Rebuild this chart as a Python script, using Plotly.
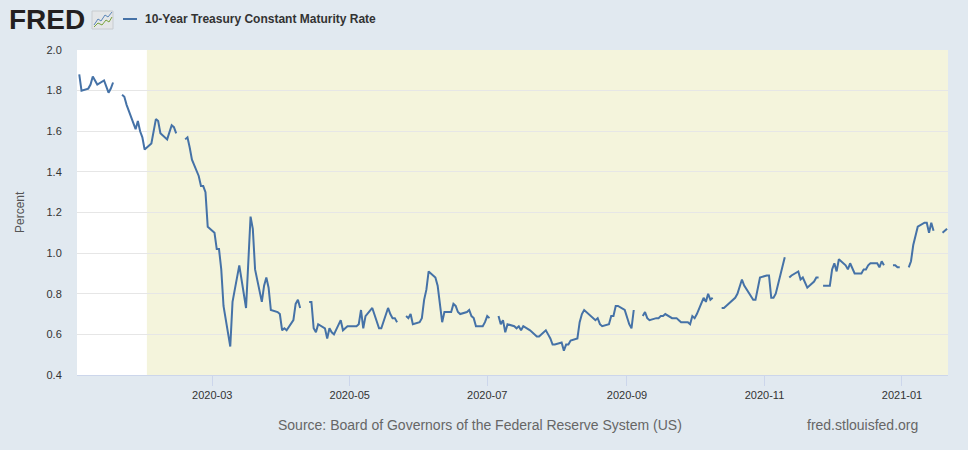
import pandas as pd
import plotly.graph_objects as go

# DGS10, daily, percent. None = market holiday (FRED leaves a gap)
jan_2020 = [1.88, 1.80, 1.81, 1.83, 1.87, 1.85, 1.83, 1.85, 1.82, 1.79, 1.81, 1.84,
            None, 1.78, 1.77, 1.73, 1.70, 1.61, 1.65, 1.60, 1.57, 1.51]
feb_2020 = [1.54, 1.61, 1.66, 1.65, 1.59, 1.56, 1.59, 1.63, 1.62, 1.59, None, 1.56,
            1.57, 1.52, 1.46, 1.38, 1.33, 1.33, 1.30, 1.13]
mar_2020 = [1.10, 1.02, 1.02, 0.92, 0.74, 0.54, 0.76, 0.82, 0.88, 0.94, 0.73, 1.00,
            1.18, 1.12, 0.92, 0.76, 0.84, 0.88, 0.83, 0.72, 0.71, 0.70]
apr_2020 = [0.62, 0.63, 0.62, 0.67, 0.75, 0.77, 0.73, None, 0.76, 0.76, 0.63, 0.61,
            0.65, 0.63, 0.58, 0.63, 0.61, 0.60, 0.67, 0.62, 0.63, 0.64]
may_2020 = [0.64, 0.64, 0.65, 0.72, 0.63, 0.69, 0.73, 0.70, 0.66, 0.63, 0.63, 0.73,
            0.70, 0.68, 0.68, 0.66, None, 0.69, 0.68, 0.70, 0.65]
jun_2020 = [0.66, 0.68, 0.77, 0.82, 0.91, 0.88, 0.84, 0.75, 0.66, 0.71, 0.71, 0.75,
            0.74, 0.71, 0.70, 0.71, 0.72, 0.69, 0.68, 0.64, 0.64, 0.66]
jul_2020 = [0.69, 0.68, None, 0.69, 0.65, 0.67, 0.61, 0.65, 0.64, 0.63, 0.64, 0.62,
            0.64, 0.62, 0.61, 0.60, 0.59, 0.59, 0.62, 0.60, 0.58, 0.55, 0.55]
aug_2020 = [0.56, 0.52, 0.55, 0.55, 0.57, 0.58, 0.66, 0.70, 0.72, 0.71, 0.68, 0.67,
            0.68, 0.65, 0.64, 0.65, 0.69, 0.69, 0.74, 0.74, 0.72]
sep_2020 = [0.68, 0.65, 0.63, 0.72, None, 0.69, 0.71, 0.68, 0.67, 0.68, 0.68, 0.69,
            0.69, 0.70, 0.68, 0.68, 0.68, 0.67, 0.66, 0.66, 0.65, 0.69]
oct_2020 = [0.68, 0.70, 0.78, 0.76, 0.80, 0.77, 0.78, None, 0.73, 0.73, 0.74, 0.75,
            0.78, 0.80, 0.83, 0.87, 0.84, 0.79, 0.77, 0.77, 0.82, 0.88]
nov_2020 = [0.89, 0.89, 0.78, 0.78, 0.80, 0.94, 0.98, None, 0.88, 0.89, 0.91, 0.87,
            0.88, 0.85, 0.83, 0.86, 0.88, 0.88, None, 0.84, 0.84]
dec_2020 = [0.92, 0.95, 0.91, 0.97, 0.94, 0.92, 0.95, 0.92, 0.90, 0.90, 0.92, 0.92,
            0.94, 0.95, 0.95, 0.93, 0.96, 0.94, None, 0.94, 0.94, 0.93, 0.93]
jan_2021 = [None, 0.93, 0.96, 1.04, 1.08, 1.13, 1.15, 1.15, 1.10, 1.15, 1.11, None,
            1.10, 1.11, 1.12]

months = [
    ('2020-01-02', '2020-01-31', jan_2020),
    ('2020-02-01', '2020-02-29', feb_2020),
    ('2020-03-01', '2020-03-31', mar_2020),
    ('2020-04-01', '2020-04-30', apr_2020),
    ('2020-05-01', '2020-05-31', may_2020),
    ('2020-06-01', '2020-06-30', jun_2020),
    ('2020-07-01', '2020-07-31', jul_2020),
    ('2020-08-01', '2020-08-31', aug_2020),
    ('2020-09-01', '2020-09-30', sep_2020),
    ('2020-10-01', '2020-10-31', oct_2020),
    ('2020-11-01', '2020-11-30', nov_2020),
    ('2020-12-01', '2020-12-31', dec_2020),
    ('2021-01-01', '2021-01-21', jan_2021),
]

tick_dates = ['2020-03-01', '2020-05-01', '2020-07-01', '2020-09-01', '2020-11-01', '2021-01-01']
tick_labels = ['2020-03', '2020-05', '2020-07', '2020-09', '2020-11', '2021-01']

recession_start = '2020-02-01'
x_start = '2020-01-01'
x_end = '2021-01-21 10:00'

# weekday calendar for each month, values line up with it
dates = []
rates = []
for start, end, vals in months:
    days = pd.bdate_range(start, end)
    assert len(days) == len(vals), (start, len(days), len(vals))
    dates += list(days)
    rates += vals

W, H = 968, 450
L, R, T, B = 77, 20, 50, 75
PW, PH = W - L - R, H - T - B
PAGE_BG = '#E1E9F0'


def px(x, y):
    # page pixels -> paper coords
    return (x - L) / PW, 1 - (y - T) / PH


FONT = 'Liberation Sans, Arial, sans-serif'
BLUE = '#4572A7'

fig = go.Figure()
fig.add_trace(go.Scatter(
    x=dates,
    y=rates,
    mode='lines',
    line={'color': BLUE, 'width': 2},
    connectgaps=False,
    showlegend=False,
))

shapes = [
    # recession shading
    dict(type='rect', xref='x', yref='paper', x0=recession_start, x1=x_end, y0=0, y1=1,
         fillcolor='#F4F4DC', line={'width': 0}, layer='below'),
]

# legend swatch
x0, y0 = px(123, 19)
x1, _ = px(137, 19)
shapes.append(dict(type='line', xref='paper', yref='paper', x0=x0, x1=x1, y0=y0, y1=y0,
                   line={'color': BLUE, 'width': 2}))

# little FRED chart icon
ix0, iy0 = px(92, 11)
ix1, iy1 = px(113, 29)
shapes.append(dict(type='rect', xref='paper', yref='paper', x0=ix0, x1=ix1, y0=iy1, y1=iy0,
                   fillcolor='#E4E6E8', line={'color': '#C8CCD0', 'width': 1}))


def icon_path(pts):
    p = [px(a, b) for a, b in pts]
    return 'M' + ' L'.join(f'{a},{b}' for a, b in p)


shapes.append(dict(type='path', xref='paper', yref='paper',
                   path=icon_path([(94, 25), (98, 19), (101, 21), (105, 15), (108, 17), (112, 12)]),
                   line={'color': '#5B86B8', 'width': 1}))
shapes.append(dict(type='path', xref='paper', yref='paper',
                   path=icon_path([(94, 27), (98, 23), (102, 25), (106, 20), (109, 22), (112, 17)]),
                   line={'color': '#79A33B', 'width': 1}))

annotations = []


def add_text(text, x, y, size, color, xanchor='left', weight='normal', angle=0, family=FONT):
    ax, ay = px(x, y)
    annotations.append(dict(text=text, x=ax, y=ay, xref='paper', yref='paper',
                            xanchor=xanchor, yanchor='middle', showarrow=False,
                            textangle=angle,
                            font={'family': family, 'size': size, 'color': color,
                                  'weight': weight}))


add_text('<b>FRED</b>', 7, 20, 28, '#231F20')
add_text('10-Year Treasury Constant Maturity Rate', 143, 19, 12, '#333333', weight='bold')
add_text('Percent', 20, 212, 12, '#555555', xanchor='center', angle=-90)
add_text('Source: Board of Governors of the Federal Reserve System (US)', 276, 425, 14, '#666666')
add_text('fred.stlouisfed.org', 805, 425, 14, '#666666')

fig.update_layout(
    width=W,
    height=H,
    margin={'l': L, 'r': R, 't': T, 'b': B, 'pad': 0},
    paper_bgcolor=PAGE_BG,
    plot_bgcolor='#FFFFFF',
    font={'family': FONT, 'size': 11, 'color': '#333333'},
    shapes=shapes,
    annotations=annotations,
    showlegend=False,
)

fig.update_xaxes(
    type='date',
    range=[x_start, x_end],
    tickvals=tick_dates,
    ticktext=tick_labels,
    showgrid=False,
    showline=True,
    linecolor='#CCD6EB',
    linewidth=1,
    ticks='outside',
    ticklen=10,
    tickcolor='#CCD6EB',
    zeroline=False,
    tickfont={'size': 11, 'color': '#333333'},
)

fig.update_yaxes(
    range=[0.4, 2.0],
    dtick=0.2,
    tick0=0.4,
    tickformat='.1f',
    showgrid=True,
    gridcolor='#E6E6E6',
    gridwidth=1,
    zeroline=False,
    showline=False,
    ticks='outside',
    ticklen=12,
    tickcolor='rgba(0,0,0,0)',
    tickfont={'size': 11, 'color': '#333333'},
)

# drop the browser's default page margin so the chart sits at 0,0
fig.write_html(
    'out.html',
    config={'displayModeBar': False},
    post_script=f"document.body.style.margin='0';document.body.style.background='{PAGE_BG}';",
)
